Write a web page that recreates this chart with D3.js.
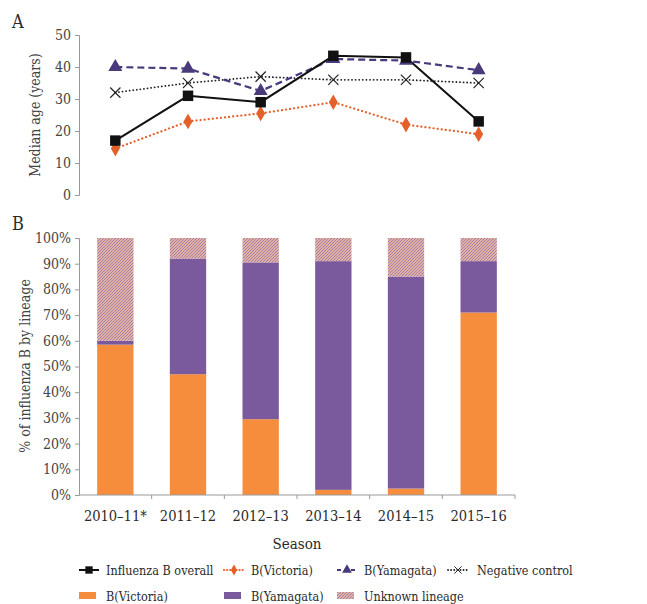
<!DOCTYPE html>
<html>
<head>
<meta charset="utf-8">
<script src="https://cdn.jsdelivr.net/npm/d3@7"></script>
<style>
  body { margin: 0; background: #fff; }
</style>
</head>
<body>
<svg id="canvas" width="647" height="604"></svg>
<script>
let seasons = ['2010–11*', '2011–12', '2012–13', '2013–14', '2014–15', '2015–16']

// panel A - median age (years)
let overallAge = [17, 31, 29, 43.5, 43, 23]
let victoriaAge = [14.5, 23, 25.5, 29, 22, 19]
let yamagataAge = [40, 39.5, 32.5, 42.5, 42, 39]
let negativeAge = [32, 35, 37, 36, 36, 35]

// panel B - % of influenza B by lineage
let victoriaPct = [58.5, 47, 29.5, 2, 2.5, 71]
let yamagataPct = [1.5, 45, 61, 89, 82.5, 20]
let unknownPct = [40, 8, 9.5, 9, 15, 9]

let font = "'DejaVu Serif Condensed', 'DejaVu Serif', serif"
let canvas = d3.select('#canvas').attr('font-family', font)
let axisColor = '#999'
let textColor = '#2a2a2a'

// hatch pattern for unknown lineage
let defs = canvas.append('defs')
let pat = defs.append('pattern')
    .attr('id', 'hatch')
    .attr('patternUnits', 'userSpaceOnUse')
    .attr('width', 3).attr('height', 3)
pat.append('rect').attr('width', 3).attr('height', 3).attr('fill', '#e4b0a4')
pat.append('path')
    .attr('d', 'M-1,1 L1,-1 M0,3 L3,0 M2,4 L4,2')
    .attr('stroke', '#9a7aa6').attr('stroke-width', 0.9)

let x = d3.scaleBand()
    .domain(seasons)
    .range([79, 515])
    .paddingInner(0.5)
    .paddingOuter(0.25)

let xc = d => x(d) + x.bandwidth() / 2

let styleAxis = g => {
    g.attr('font-family', font)
    g.select('.domain').attr('stroke', axisColor)
    g.selectAll('.tick line').attr('stroke', axisColor)
    g.selectAll('.tick text').attr('font-size', 14).attr('fill', '#444')
}

// ---------- panel A ----------
let yA = d3.scaleLinear().domain([0, 50]).range([195, 35])

let gA = canvas.append('g')
gA.append('g')
    .attr('transform', 'translate(79,0)')
    .call(d3.axisLeft(yA).tickValues([0, 10, 20, 30, 40, 50]).tickSize(4).tickPadding(4))
    .call(styleAxis)

canvas.append('text')
    .attr('transform', 'translate(40,115) rotate(-90)')
    .attr('text-anchor', 'middle')
    .attr('font-size', 14)
    .attr('fill', '#444')
    .text('Median age (years)')

canvas.append('text').attr('x', 12).attr('y', 28).attr('font-size', 18).attr('fill', textColor).text('A')

let seriesA = [
    { name: 'Influenza B overall', values: overallAge, color: '#111', dash: null, width: 2, marker: 'square' },
    { name: 'B(Victoria)', values: victoriaAge, color: '#e4602a', dash: '0.1 4', width: 2.2, marker: 'diamond' },
    { name: 'B(Yamagata)', values: yamagataAge, color: '#4a3a7c', dash: '7 4', width: 2.2, marker: 'triangle' },
    { name: 'Negative control', values: negativeAge, color: '#222', dash: '0.1 3.5', width: 1.8, marker: 'cross' }
]

let line = d3.line().x((d, i) => xc(seasons[i])).y(d => yA(d))

let symbolFor = m => {
    if (m === 'square') return d3.symbol(d3.symbolSquare, 110)()
    if (m === 'diamond') return d3.symbol(d3.symbolDiamond, 70)()
    if (m === 'triangle') return d3.symbol(d3.symbolTriangle, 85)()
    return d3.symbol(d3.symbolX, 70)()
}

// draw back to front: negative control, yamagata, victoria, overall
let drawOrder = [3, 2, 1, 0]
drawOrder.forEach(k => {
    let s = seriesA[k]
    gA.append('path')
        .datum(s.values)
        .attr('d', line)
        .attr('fill', 'none')
        .attr('stroke', s.color)
        .attr('stroke-width', s.width)
        .attr('stroke-linecap', s.dash && s.dash.startsWith('0.1') ? 'round' : 'butt')
        .attr('stroke-dasharray', s.dash)
})
drawOrder.forEach(k => {
    let s = seriesA[k]
    gA.selectAll('.m' + k)
        .data(s.values)
        .enter()
        .append('path')
        .attr('transform', (d, i) => `translate(${xc(seasons[i])},${yA(d)})`)
        .attr('d', symbolFor(s.marker))
        .attr('fill', s.marker === 'cross' ? 'none' : s.color)
        .attr('stroke', s.marker === 'cross' ? '#222' : 'none')
        .attr('stroke-width', 1.2)
})

// ---------- panel B ----------
let yB = d3.scaleLinear().domain([0, 100]).range([495, 238])

let stackRows = seasons.map((s, i) => ({
    season: s,
    victoria: victoriaPct[i],
    yamagata: yamagataPct[i],
    unknown: unknownPct[i]
}))
let stack = d3.stack().keys(['victoria', 'yamagata', 'unknown'])(stackRows)
let fills = { victoria: '#f58d3d', yamagata: '#7a5a9c', unknown: 'url(#hatch)' }

let gB = canvas.append('g')
gB.selectAll('g.layer')
    .data(stack)
    .enter()
    .append('g')
    .attr('class', 'layer')
    .attr('fill', d => fills[d.key])
    .selectAll('rect')
    .data(d => d)
    .enter()
    .append('rect')
    .attr('x', d => x(d.data.season))
    .attr('width', x.bandwidth())
    .attr('y', d => yB(Math.min(d[1], 100)))
    .attr('height', d => yB(d[0]) - yB(Math.min(d[1], 100)))

gB.append('g')
    .attr('transform', 'translate(79,0)')
    .call(d3.axisLeft(yB).tickValues(d3.range(0, 101, 10)).tickFormat(d => d + '%').tickSize(4).tickPadding(4))
    .call(styleAxis)

// x axis with ticks at band boundaries
let xAxisG = gB.append('g').attr('transform', 'translate(0,495)')
xAxisG.append('line')
    .attr('x1', 79).attr('x2', 515)
    .attr('stroke', axisColor)
let bounds = seasons.map(s => x(s) - x.step() * x.paddingInner() / 2).slice(1).concat([515])
xAxisG.selectAll('line.tk')
    .data(bounds)
    .enter()
    .append('line')
    .attr('class', 'tk')
    .attr('x1', d => d).attr('x2', d => d)
    .attr('y1', 0).attr('y2', 4)
    .attr('stroke', axisColor)
xAxisG.selectAll('text')
    .data(seasons)
    .enter()
    .append('text')
    .attr('x', d => xc(d))
    .attr('y', 26)
    .attr('text-anchor', 'middle')
    .attr('font-size', 14.5)
    .attr('fill', textColor)
    .text(d => d)

canvas.append('text')
    .attr('x', xc(seasons[2]) + x.step() / 2)
    .attr('y', 549)
    .attr('text-anchor', 'middle')
    .attr('font-size', 15)
    .attr('fill', textColor)
    .text('Season')

canvas.append('text')
    .attr('transform', 'translate(30,366) rotate(-90)')
    .attr('text-anchor', 'middle')
    .attr('font-size', 14)
    .attr('fill', '#444')
    .text('% of influenza B by lineage')

canvas.append('text').attr('x', 12).attr('y', 230).attr('font-size', 18).attr('fill', textColor).text('B')

// ---------- legend ----------
let legLineX = [79, 224, 337, 448]
let legA = canvas.append('g')
seriesA.forEach((s, i) => {
    let g = legA.append('g').attr('transform', `translate(${legLineX[i]},570)`)
    g.append('line')
        .attr('x1', 0).attr('x2', 20)
        .attr('stroke', s.color)
        .attr('stroke-width', s.width)
        .attr('stroke-dasharray', s.dash ? (s.dash.startsWith('0.1') ? '0.1 3' : '4 3') : null)
        .attr('stroke-linecap', s.dash && s.dash.startsWith('0.1') ? 'round' : 'butt')
    g.append('path')
        .attr('transform', 'translate(10,0) scale(0.7)')
        .attr('d', symbolFor(s.marker))
        .attr('fill', s.marker === 'cross' ? 'none' : s.color)
        .attr('stroke', s.marker === 'cross' ? '#222' : 'none')
        .attr('stroke-width', 1.4)
    g.append('text')
        .attr('x', i === 3 ? 29 : 27)
        .attr('y', 5)
        .attr('font-size', 12.5)
        .attr('fill', textColor)
        .text(s.name)
})

let legBItems = [['B(Victoria)', fills.victoria], ['B(Yamagata)', fills.yamagata], ['Unknown lineage', fills.unknown]]
let legB = canvas.append('g')
legBItems.forEach((d, i) => {
    let g = legB.append('g').attr('transform', `translate(${legLineX[i]},596)`)
    g.append('rect')
        .attr('x', 0).attr('y', -4)
        .attr('width', 17).attr('height', 7)
        .attr('fill', d[1])
    g.append('text')
        .attr('x', 27)
        .attr('y', 5)
        .attr('font-size', 12.5)
        .attr('fill', textColor)
        .text(d[0])
})
</script>
</body>
</html>
